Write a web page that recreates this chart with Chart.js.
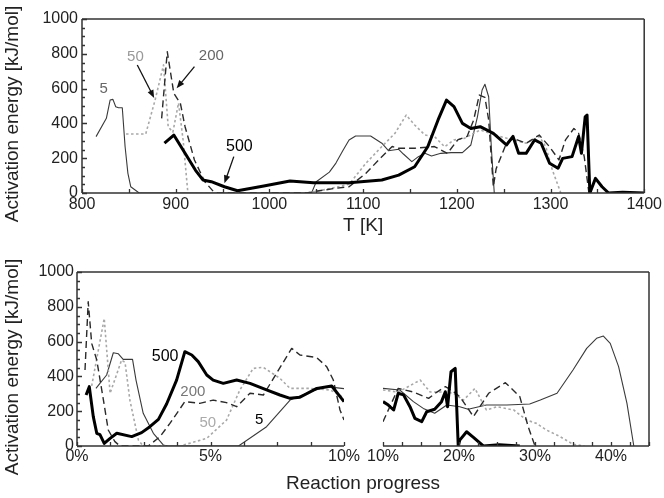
<!DOCTYPE html>
<html><head><meta charset="utf-8">
<script src="https://cdn.jsdelivr.net/npm/chart.js@4.4.0/dist/chart.umd.min.js"></script>
<style>
html,body{margin:0;padding:0;background:#fff;}
#wrap{position:relative;width:664px;height:498px;overflow:hidden;}
canvas{position:absolute;left:0;}
#c1{top:0;}
#c2,#c3{top:250px;}
</style></head><body>
<div id="wrap">
<canvas id="c1" width="664" height="250"></canvas>
<canvas id="c2" width="664" height="248"></canvas>
<canvas id="c3" width="664" height="248"></canvas>
</div>
<script>
// ---------- DATA (top panel: temperature) ----------
const T_5   = [815, 826, 830, 833, 836, 839, 843, 846, 849, 852, 861, 1045, 1050, 1064, 1071, 1078, 1085, 1092, 1108, 1120, 1127, 1138, 1143, 1152, 1159, 1166, 1173, 1183, 1194, 1206, 1215, 1222, 1227, 1230, 1234, 1237, 1240];
const E_5   = [324, 429, 534, 538, 496, 490, 490, 266, 113, 36, 0, 0, 65, 120, 172, 240, 305, 328, 328, 286, 243, 251, 224, 180, 209, 228, 213, 228, 232, 232, 276, 438, 592, 625, 553, 247, 0];
const T_50  = [847, 868, 878, 887, 892, 897, 903, 908, 913, 1040, 1060, 1085, 1103, 1120, 1134, 1146, 1155, 1166, 1176, 1187, 1197, 1208, 1218, 1225, 1236, 1246, 1260, 1274, 1288, 1295, 1302, 1311];
const E_50  = [339, 339, 534, 736, 380, 350, 517, 300, 0, 0, 20, 50, 171, 267, 343, 448, 391, 333, 325, 266, 305, 314, 343, 362, 343, 325, 305, 286, 325, 266, 132, 0];
const T_200 = [885, 891, 898, 905, 910, 920, 931, 940, 945, 1040, 1050, 1068, 1085, 1103, 1120, 1131, 1138, 1155, 1176, 1190, 1201, 1211, 1218, 1224, 1230, 1234, 1239, 1242, 1253, 1260, 1274, 1288, 1299, 1309, 1316, 1325, 1330, 1336, 1341];
const E_200 = [429, 812, 573, 515, 381, 190, 65, 10, 0, 0, 10, 25, 36, 113, 209, 267, 257, 257, 267, 228, 305, 325, 420, 563, 550, 420, 36, 140, 286, 314, 286, 333, 266, 190, 305, 371, 343, 209, 0];
const T_500 = [888, 898, 910, 921, 929, 938, 952, 966, 994, 1022, 1047, 1085, 1120, 1138, 1155, 1169, 1180, 1189, 1197, 1206, 1215, 1225, 1239, 1253, 1260, 1266, 1274, 1283, 1290, 1299, 1308, 1313, 1323, 1330, 1333, 1337, 1339, 1342, 1348, 1355, 1362, 1377, 1400];
const E_500 = [286, 333, 228, 132, 75, 65, 36, 13, 40, 69, 59, 59, 75, 103, 151, 266, 420, 534, 496, 400, 371, 381, 343, 276, 325, 228, 228, 305, 286, 171, 142, 199, 209, 325, 228, 438, 448, 0, 84, 36, 0, 5, 0];

// ---------- DATA (bottom panel: reaction progress, 0-10 %) ----------
const P_5L   = [0.71, 1.11, 1.36, 1.55, 1.73, 2.08, 2.21, 2.48, 2.86, 3.23, 3.4, 6.05, 7.1, 7.98, 8.73, 9.35, 10];
const E_5L   = [331, 408, 536, 530, 498, 498, 379, 188, 73, 6, 0, 0, 111, 264, 312, 341, 330];
const P_50L  = [0.55, 1.02, 1.24, 1.67, 1.8, 1.98, 2.3, 2.48, 3.86, 4.86, 5.6, 6.1, 6.6, 6.98, 7.6, 7.98, 8.73, 9.48, 9.85, 10];
const E_50L  = [345, 733, 303, 494, 480, 264, 34, 0, 0, 44, 149, 322, 446, 452, 389, 331, 331, 322, 293, 270];
const P_200L = [0.3, 0.42, 0.55, 0.74, 0.99, 1.17, 1.42, 1.61, 2.67, 3.11, 3.48, 4.04, 4.6, 5.1, 5.6, 5.98, 6.48, 6.98, 8.04, 8.35, 8.98, 9.35, 9.6, 9.85, 10];
const E_200L = [437, 829, 590, 494, 264, 92, 25, 0, 0, 54, 130, 255, 245, 264, 249, 226, 303, 293, 561, 523, 508, 456, 379, 207, 150];
const P_500L = [0.34, 0.46, 0.61, 0.74, 0.86, 1.02, 1.24, 1.49, 2.05, 2.42, 2.73, 3.05, 3.36, 3.73, 4.04, 4.3, 4.54, 4.86, 5.1, 5.48, 5.98, 6.48, 7.1, 7.6, 7.98, 8.35, 8.98, 9.54, 10];
const E_500L = [293, 341, 169, 73, 65, 15, 44, 73, 54, 77, 111, 153, 243, 379, 542, 523, 485, 408, 379, 360, 379, 360, 322, 293, 274, 280, 331, 345, 255];

// ---------- DATA (bottom panel: reaction progress, 10-45 %) ----------
const P_5R   = [10, 12.2, 14, 15.3, 16.8, 18.4, 20.1, 21.2, 23.6, 26.3, 29.3, 30.7, 32.9, 35, 36.8, 38.1, 39, 39.9, 41, 42.1, 43];
const E_5R   = [331, 322, 255, 216, 188, 236, 226, 211, 236, 236, 241, 264, 303, 437, 561, 619, 632, 590, 456, 245, 0];
const P_50R  = [10, 12, 14.9, 16.2, 18, 19.25, 20.6, 22.1, 23.6, 25, 27.2, 28.9, 30.2, 31.5, 33.3, 35, 36.5];
const E_50R  = [322, 310, 379, 310, 310, 303, 264, 331, 207, 226, 207, 149, 130, 92, 54, 10, 0];
const P_200R = [10, 10.9, 12, 14, 16, 17.1, 18.2, 19, 20.1, 21.9, 23.9, 26.1, 28, 29.1, 30];
const E_200R = [140, 226, 331, 310, 274, 310, 341, 322, 284, 169, 303, 364, 284, 111, 0];
const P_500R = [10, 10.7, 11.4, 12, 12.7, 13.55, 14.2, 15.1, 15.75, 16.8, 17.7, 18.2, 18.5, 18.95, 19.5, 19.9, 20.1, 21, 21.9, 23.2, 25.3, 28];
const E_500R = [255, 235, 207, 303, 294, 226, 159, 140, 197, 211, 255, 312, 226, 427, 446, 0, 34, 82, 50, 0, 7, 0];

// ---------- AXIS / TICK LABELS ----------
const yTicks = [0, 200, 400, 600, 800, 1000];
const tTickLabels = [800, 900, 1000, 1100, 1200, 1300, 1400];
const pTickLabelsL = [0, 5, 10];
const pTickLabelsR = [10, 20, 30, 40];
const Y_TITLE = 'Activation energy [kJ/mol]';

// ---------- ANNOTATIONS (series names + arrows, data coordinates) ----------
const topLabels = [
  {text:'5',   x:823, y:598, color:'#666'},
  {text:'50',  x:857, y:782, color:'#999'},
  {text:'200', x:938, y:787, color:'#666'},
  {text:'500', x:968, y:264, color:'#000'}
];
const topArrows = [
  {x1:859, y1:736, x2:877, y2:546},
  {x1:920, y1:726, x2:901, y2:602},
  {x1:962, y1:209, x2:952, y2:56}
];
const botLabels = [
  {text:'500', x:3.3,  y:511, color:'#000'},
  {text:'200', x:4.34, y:310, color:'#777'},
  {text:'50',  x:4.9,  y:132, color:'#aaa'},
  {text:'5',   x:6.82, y:149, color:'#000'}
];

const FONT = "'Liberation Sans', Arial, Helvetica, sans-serif";
Chart.defaults.font.family = FONT;
Chart.defaults.color = '#222';

const styles = {
  s5:   {borderColor:'#3a3a3a', borderWidth:1.1, borderDash:[]},
  s50:  {borderColor:'#a8a8a8', borderWidth:1.6, borderDash:[2.5,2.5]},
  s200: {borderColor:'#2a2a2a', borderWidth:1.4, borderDash:[7,4]},
  s500: {borderColor:'#000000', borderWidth:3,   borderDash:[]}
};
function pts(xs, ys){ return xs.map((x,i)=>({x:x, y:ys[i]})); }
function ds(label, xs, ys, st, order){
  return Object.assign({label, data:pts(xs,ys), pointRadius:0, tension:0, fill:false, order,
    borderJoinStyle:'round', borderCapStyle:'butt'}, st);
}

// inward ticks + frame + annotations + titles
const decor = {
  id:'decor',
  afterDatasetsDraw(chart, args, o){
    const {ctx, chartArea:a, scales} = chart;
    ctx.save();
    ctx.strokeStyle = '#333'; ctx.lineWidth = 1.3; ctx.setLineDash([]);
    const xs = scales.x;
    ctx.beginPath();
    xs.ticks.forEach(t=>{ const px = Math.round(xs.getPixelForValue(t.value))+0.5; ctx.moveTo(px, a.bottom); ctx.lineTo(px, a.bottom-4); });
    ctx.stroke();
    if (o.yTicks){
      const ys = scales.y;
      ctx.beginPath();
      for (let v = ys.min; v <= ys.max; v += 50){
        const py = Math.round(ys.getPixelForValue(v))+0.5;
        const len = (v % 200 === 0) ? 5 : 3;
        ctx.moveTo(a.left, py); ctx.lineTo(a.left+len, py);
      }
      ctx.stroke();
    }
    ctx.lineWidth = 1.5;
    ctx.beginPath();
    const L = o.frameLeft ? o.frameLeft() : a.left;
    const R = o.frameRight ? o.frameRight() : a.right;
    ctx.moveTo(a.left, a.bottom); ctx.lineTo(a.right, a.bottom);
    if (o.top){ ctx.moveTo(L, a.top); ctx.lineTo(R, a.top); }
    if (o.left){ ctx.moveTo(a.left, a.top); ctx.lineTo(a.left, a.bottom); }
    if (o.right){ ctx.moveTo(a.right, a.top); ctx.lineTo(a.right, a.bottom); }
    ctx.stroke();
    (o.labels||[]).forEach(l=>{
      ctx.fillStyle = l.color;
      ctx.font = (l.text==='500' ? '16px ' : '15px ') + FONT;
      ctx.textAlign = 'center'; ctx.textBaseline = 'middle';
      ctx.fillText(l.text, xs.getPixelForValue(l.x), scales.y.getPixelForValue(l.y));
    });
    (o.arrows||[]).forEach(ar=>{
      const x1 = xs.getPixelForValue(ar.x1), y1 = scales.y.getPixelForValue(ar.y1);
      const x2 = xs.getPixelForValue(ar.x2), y2 = scales.y.getPixelForValue(ar.y2);
      const ang = Math.atan2(y2-y1, x2-x1), h = 8, w = 3.2;
      ctx.strokeStyle = '#111'; ctx.fillStyle = '#111'; ctx.lineWidth = 1.3;
      ctx.beginPath(); ctx.moveTo(x1,y1);
      ctx.lineTo(x2 - h*0.8*Math.cos(ang), y2 - h*0.8*Math.sin(ang)); ctx.stroke();
      ctx.beginPath(); ctx.moveTo(x2,y2);
      ctx.lineTo(x2 - h*Math.cos(ang) + w*Math.sin(ang), y2 - h*Math.sin(ang) - w*Math.cos(ang));
      ctx.lineTo(x2 - h*Math.cos(ang) - w*Math.sin(ang), y2 - h*Math.sin(ang) + w*Math.cos(ang));
      ctx.closePath(); ctx.fill();
    });
    ctx.fillStyle = '#222'; ctx.font = '19px ' + FONT;
    ctx.textAlign = 'center'; ctx.textBaseline = 'middle';
    if (o.xTitle){
      ctx.fillText(o.xTitle.text, (L+R)/2, o.xTitle.y);
    }
    if (o.yTitle){
      ctx.save();
      ctx.translate(13, (a.top + a.bottom)/2 + 8);
      ctx.rotate(-Math.PI/2);
      ctx.fillText(o.yTitle, 0, 0);
      ctx.restore();
    }
    ctx.restore();
  }
};

function yScale(width, pad){
  return {
    type:'linear', min:0, max:1000,
    afterFit: s => { s.width = width; },
    afterBuildTicks: s => { s.ticks = yTicks.map(v=>({value:v})); },
    grid:{display:false, drawTicks:false}, border:{display:false},
    ticks:{font:{size:16}, padding:pad, color:'#222', callback: v => String(v)}
  };
}

// ---------- TOP CHART ----------
new Chart(document.getElementById('c1'), {
  type:'line',
  data:{datasets:[
    ds('500', T_500, E_500, styles.s500, 0),
    ds('200', T_200, E_200, styles.s200, 1),
    ds('50',  T_50,  E_50,  styles.s50,  2),
    ds('5',   T_5,   E_5,   styles.s5,   3)
  ]},
  options:{
    responsive:false, animation:false, events:[],
    layout:{padding:{left:0, top:19, right:11, bottom:0}},
    plugins:{legend:{display:false}, tooltip:{enabled:false},
      decor:{yTicks:true, top:true, left:true, right:true, labels:topLabels, arrows:topArrows,
        yTitle:Y_TITLE, xTitle:{text:'T [K]', y:226}}},
    scales:{
      x:{type:'linear', min:800, max:1400,
        afterFit: s => { s.height = 57; },
        grid:{display:false, drawTicks:false}, border:{display:false},
        ticks:{stepSize:50, autoSkip:false, maxRotation:0, font:{size:16}, padding:2, color:'#222',
          callback: v => tTickLabels.includes(v) ? String(v) : ''}
      },
      y: yScale(82, 4)
    }
  },
  plugins:[decor]
});

// ---------- BOTTOM LEFT CHART ----------
const chartL = new Chart(document.getElementById('c2'), {
  type:'line',
  data:{datasets:[
    ds('500', P_500L, E_500L, styles.s500, 0),
    ds('200', P_200L, E_200L, styles.s200, 1),
    ds('50',  P_50L,  E_50L,  styles.s50,  2),
    ds('5',   P_5L,   E_5L,   styles.s5,   3)
  ]},
  options:{
    responsive:false, animation:false, events:[],
    layout:{padding:{left:0, top:22, right:320, bottom:0}},
    plugins:{legend:{display:false}, tooltip:{enabled:false},
      decor:{yTicks:true, top:false, left:true, right:false, labels:botLabels, yTitle:Y_TITLE}},
    scales:{
      x:{type:'linear', min:0, max:10,
        afterFit: s => { s.height = 52; },
        grid:{display:false, drawTicks:false}, border:{display:false},
        ticks:{stepSize:1.25, autoSkip:false, maxRotation:0, font:{size:16}, padding:1, color:'#222',
          callback: v => pTickLabelsL.includes(v) ? v + '%' : ''}
      },
      y: yScale(77, 3)
    }
  },
  plugins:[decor]
});

// ---------- BOTTOM RIGHT CHART ----------
new Chart(document.getElementById('c3'), {
  type:'line',
  data:{datasets:[
    ds('500', P_500R, E_500R, styles.s500, 0),
    ds('200', P_200R, E_200R, styles.s200, 1),
    ds('50',  P_50R,  E_50R,  styles.s50,  2),
    ds('5',   P_5R,   E_5R,   styles.s5,   3)
  ]},
  options:{
    responsive:false, animation:false, events:[],
    layout:{padding:{left:383, top:22, right:15, bottom:0}},
    plugins:{legend:{display:false}, tooltip:{enabled:false},
      decor:{yTicks:false, top:true, left:false, right:true,
        frameLeft: () => chartL.chartArea.left,
        xTitle:{text:'Reaction progress', y:234}}},
    scales:{
      x:{type:'linear', min:10, max:45,
        afterFit: s => { s.height = 52; },
        grid:{display:false, drawTicks:false}, border:{display:false},
        ticks:{stepSize:2.5, autoSkip:false, maxRotation:0, font:{size:16}, padding:1, color:'#222',
          callback: v => pTickLabelsR.includes(v) ? v + '%' : ''}
      },
      y: {type:'linear', min:0, max:1000, display:false}
    }
  },
  plugins:[decor]
});
</script>
</body></html>
